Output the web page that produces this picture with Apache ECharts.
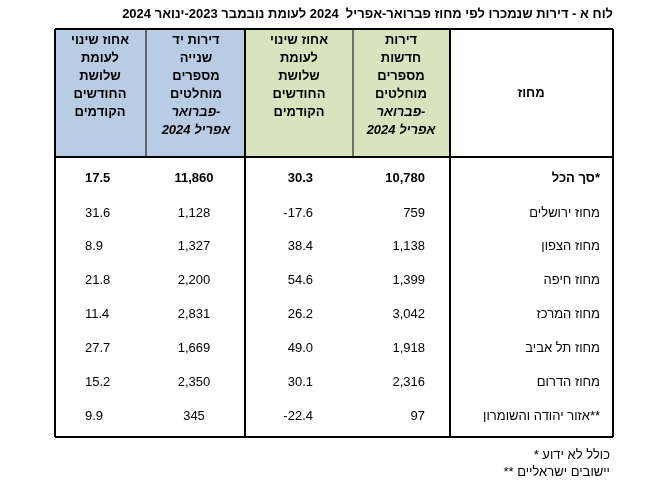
<!DOCTYPE html>
<html><head><meta charset="utf-8">
<script src="https://cdn.jsdelivr.net/npm/echarts@6/dist/echarts.min.js"></script>
<style>html,body{margin:0;background:#fff}#c{width:666px;height:493px}</style>
</head><body><div id="c"></div>
<script>
var title = 'לוח א - דירות שנמכרו לפי מחוז פברואר-אפריל  2024 לעומת נובמבר 2023-ינואר 2024';
var districts = ['סך הכל*', 'מחוז ירושלים', 'מחוז הצפון', 'מחוז חיפה', 'מחוז המרכז', 'מחוז תל אביב', 'מחוז הדרום', 'אזור יהודה והשומרון**'];
var newFlats = ['10,780', '759', '1,138', '1,399', '3,042', '1,918', '2,316', '97'];
var newChange = ['30.3', '-17.6', '38.4', '54.6', '26.2', '49.0', '30.1', '-22.4'];
var usedFlats = ['11,860', '1,128', '1,327', '2,200', '2,831', '1,669', '2,350', '345'];
var usedChange = ['17.5', '31.6', '8.9', '21.8', '11.4', '27.7', '15.2', '9.9'];
var notes = ['* כולל לא ידוע', '** יישובים ישראליים'];

var font = '"Liberation Sans", Arial, sans-serif';
var cols = [55, 146, 245, 353, 450, 613];
var top0 = 29, headBottom = 157, bottom = 437;
var rowY = [178, 213, 246, 280, 314, 348, 382, 416];
var g = [];

function text(x, y, s, align, bold, size) {
  g.push({ type: 'text', x: x, y: y, style: { text: s, fill: '#000', font: (bold ? 'bold ' : '') + (size || 13) + 'px ' + font, textAlign: align, textVerticalAlign: 'middle' } });
}
function line(x1, y1, x2, y2, w) {
  g.push({ type: 'line', shape: { x1: x1, y1: y1, x2: x2, y2: y2 }, style: { stroke: '#000', lineWidth: w } });
}
g.push({ type: 'rect', shape: { x: cols[0], y: top0, width: cols[2] - cols[0], height: headBottom - top0 }, style: { fill: '#b8cce4' } });
g.push({ type: 'rect', shape: { x: cols[2], y: top0, width: cols[4] - cols[2], height: headBottom - top0 }, style: { fill: '#d7e4bd' } });

text(613, 14, title, 'right', true, 13);

var changeHead = ['אחוז שינוי', 'לעומת', 'שלושת', 'החודשים', 'הקודמים'];
var newHead = ['דירות', 'חדשות', 'מספרים', 'מוחלטים'];
var usedHead = ['דירות יד', 'שנייה', 'מספרים', 'מוחלטים'];
var italicHead = ['פברואר-', 'אפריל 2024'];
function header(cx, lines, italic) {
  var y = 40;
  lines.forEach(function (s) { text(cx, y, s, 'center', true, 13); y += 18; });
  if (italic) italic.forEach(function (s) {
    g.push({ type: 'text', x: cx, y: y, style: { text: s, fill: '#000', font: 'italic bold 13px ' + font, textAlign: 'center', textVerticalAlign: 'middle' } });
    y += 18;
  });
}
header(100, changeHead);
header(196, usedHead, italicHead);
header(299, changeHead);
header(401, newHead, italicHead);
text(531, 93, 'מחוז', 'center', true, 13);

districts.forEach(function (d, i) {
  var b = i === 0, y = rowY[i];
  text(600, y, d, 'right', b, 13);
  text(425, y, newFlats[i], 'right', b, 13);
  text(313, y, newChange[i], 'right', b, 13);
  text(194, y, usedFlats[i], 'center', b, 13);
  text(85, y, usedChange[i], 'left', b, 13);
});
notes.forEach(function (n, i) { text(610, 455 + i * 17, n, 'right', false, 13); });

line(cols[0], top0, cols[5], top0, 2);
line(cols[0], headBottom, cols[5], headBottom, 2);
line(cols[0], bottom, cols[5], bottom, 2);
[0, 2, 4, 5].forEach(function (k) { line(cols[k], top0, cols[k], bottom, 2); });
[1, 3].forEach(function (k) { line(cols[k], top0, cols[k], headBottom, 1); });

echarts.init(document.getElementById('c')).setOption({ animation: false, graphic: g });
</script></body></html>
